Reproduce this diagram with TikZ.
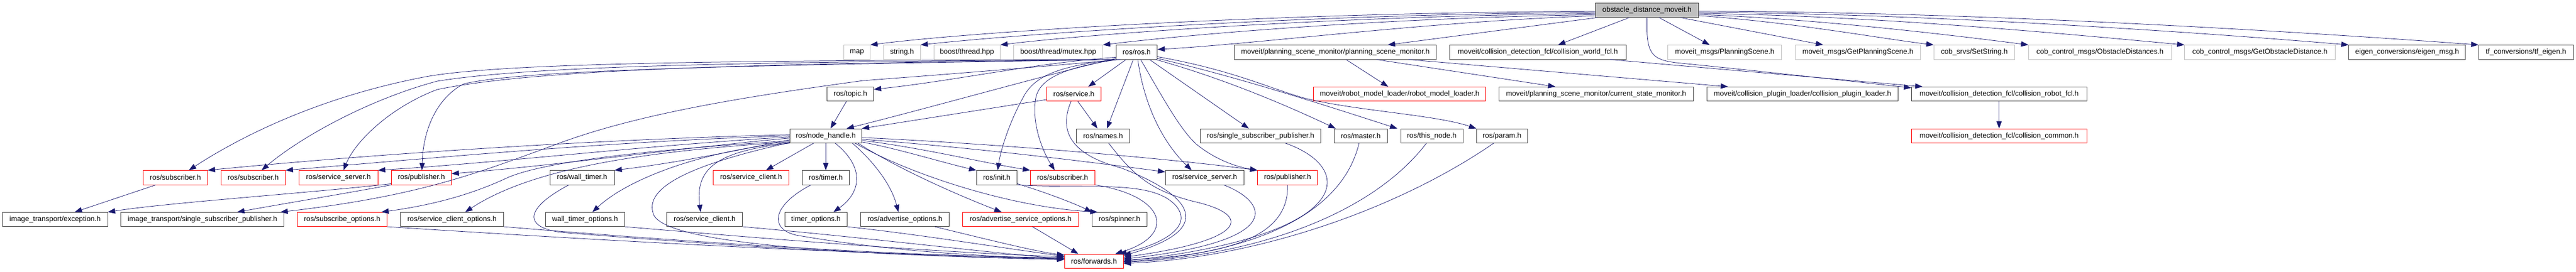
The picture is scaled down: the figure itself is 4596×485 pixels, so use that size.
\documentclass[tikz,border=0pt]{standalone}
\usepackage{fontspec}
\setmainfont{Liberation Sans}
\usetikzlibrary{arrows.meta}
\definecolor{edgec}{HTML}{191970}
\definecolor{lgray}{HTML}{BFBFBF}
\definecolor{dgray}{HTML}{404040}
\begin{document}
\begin{tikzpicture}[x=1pt,y=1pt,
 box/.style={draw, line width=0.9pt, minimum height=25.3pt, inner sep=0pt, font=\fontsize{12.9}{15}\selectfont, anchor=center},
 nb/.style={box, draw=dgray},
 nr/.style={box, draw=red},
 ng/.style={box, draw=lgray},
 ntop/.style={box, draw=dgray, fill=lgray},
 e/.style={draw=edgec, line width=0.75pt, -{Triangle[length=13pt,width=9.5pt]}}]
\useasboundingbox (0,0) rectangle (4596,-485);
\fill[white] (0,0) rectangle (4596,-485);
% row 0
\node[ntop,minimum width=184.4pt] (top) at (2938.5,-18.3) {obstacle\_distance\_moveit.h};
% row 1
\node[ng,minimum width=46.6pt] (map) at (1529,-93.3) {map};
\node[ng,minimum width=65.3pt] (string) at (1609.3,-93.3) {string.h};
\node[ng,minimum width=118.3pt] (boost) at (1725.2,-93.3) {boost/thread.hpp};
\node[ng,minimum width=158.6pt] (mutex) at (1888,-93.3) {boost/thread/mutex.hpp};
\node[nb,minimum width=73.4pt] (rosh) at (2028,-93.3) {ros/ros.h};
\node[nb,minimum width=360.4pt] (psm) at (2382.5,-93.3) {moveit/planning\_scene\_monitor/planning\_scene\_monitor.h};
\node[nb,minimum width=315pt] (cwf) at (2743.8,-93.3) {moveit/collision\_detection\_fcl/collision\_world\_fcl.h};
\node[ng,minimum width=203pt] (ps) at (3077.2,-93.3) {moveit\_msgs/PlanningScene.h};
\node[ng,minimum width=223.3pt] (gps) at (3314.7,-93.3) {moveit\_msgs/GetPlanningScene.h};
\node[ng,minimum width=144.4pt] (setstr) at (3522.5,-93.3) {cob\_srvs/SetString.h};
\node[ng,minimum width=254.7pt] (obsd) at (3746.7,-93.3) {cob\_control\_msgs/ObstacleDistances.h};
\node[ng,minimum width=268.6pt] (gobsd) at (4032,-93.3) {cob\_control\_msgs/GetObstacleDistance.h};
\node[nb,minimum width=208pt] (eigen) at (4294.7,-93.3) {eigen\_conversions/eigen\_msg.h};
\node[nb,minimum width=168.7pt] (tfe) at (4506.7,-93.3) {tf\_conversions/tf\_eigen.h};
% row 2
\node[nb,minimum width=83pt] (topic) at (1517.2,-168) {ros/topic.h};
\node[nr,minimum width=97.4pt] (service) at (1916,-168) {ros/service.h};
\node[nr,minimum width=307pt] (rml) at (2497.2,-168) {moveit/robot\_model\_loader/robot\_model\_loader.h};
\node[nb,minimum width=347pt] (csm) at (2847.8,-168) {moveit/planning\_scene\_monitor/current\_state\_monitor.h};
\node[nb,minimum width=340.6pt] (cpl) at (3216,-168) {moveit/collision\_plugin\_loader/collision\_plugin\_loader.h};
\node[nb,minimum width=312.7pt] (crf) at (3566.7,-168) {moveit/collision\_detection\_fcl/collision\_robot\_fcl.h};
% row 3
\node[nb,minimum width=128pt] (nh) at (1473.3,-242.7) {ros/node\_handle.h};
\node[nb,minimum width=94.6pt] (names) at (1968,-242.7) {ros/names.h};
\node[nb,minimum width=215pt] (ssp) at (2249.2,-242.7) {ros/single\_subscriber\_publisher.h};
\node[nb,minimum width=95pt] (master) at (2427.8,-242.7) {ros/master.h};
\node[nb,minimum width=111pt] (thisnode) at (2554.5,-242.7) {ros/this\_node.h};
\node[nb,minimum width=91pt] (param) at (2679.8,-242.7) {ros/param.h};
\node[nr,minimum width=312.7pt] (ccommon) at (3566.7,-242.7) {moveit/collision\_detection\_fcl/collision\_common.h};
% row 4
\node[nr,minimum width=114.6pt] (sub1) at (313,-317.3) {ros/subscriber.h};
\node[nr,minimum width=115pt] (sub2) at (451.8,-317.3) {ros/subscriber.h};
\node[nr,minimum width=140.3pt] (ssr) at (603.8,-317.3) {ros/service\_server.h};
\node[nr,minimum width=107pt] (pubr) at (751.8,-317.3) {ros/publisher.h};
\node[nb,minimum width=115pt] (wt) at (1038.5,-317.3) {ros/wall\_timer.h};
\node[nr,minimum width=135.4pt] (scr) at (1340,-317.3) {ros/service\_client.h};
\node[nb,minimum width=84pt] (timer) at (1473.3,-317.3) {ros/timer.h};
\node[nb,minimum width=72.4pt] (init) at (1778.5,-317.3) {ros/init.h};
\node[nr,minimum width=115pt] (sub3) at (1895.8,-317.3) {ros/subscriber.h};
\node[nb,minimum width=140pt] (ssb) at (2149.3,-317.3) {ros/service\_server.h};
\node[nr,minimum width=107pt] (pub2) at (2297.2,-317.3) {ros/publisher.h};
% row 5
\node[nb,minimum width=187.3pt] (exc) at (98.3,-392) {image\_transport/exception.h};
\node[nb,minimum width=291pt] (itssp) at (361.2,-392) {image\_transport/single\_subscriber\_publisher.h};
\node[nr,minimum width=160.4pt] (subopt) at (610.5,-392) {ros/subscribe\_options.h};
\node[nb,minimum width=184.4pt] (sco) at (806.5,-392) {ros/service\_client\_options.h};
\node[nb,minimum width=141.7pt] (wto) at (1043.8,-392) {wall\_timer\_options.h};
\node[nb,minimum width=135pt] (scb) at (1257.2,-392) {ros/service\_client.h};
\node[nb,minimum width=111pt] (to) at (1455.8,-392) {timer\_options.h};
\node[nb,minimum width=157.6pt] (ao) at (1614.5,-392) {ros/advertise\_options.h};
\node[nr,minimum width=206.6pt] (aso) at (1821,-392) {ros/advertise\_service\_options.h};
\node[nb,minimum width=97.3pt] (spinner) at (1997.3,-392) {ros/spinner.h};
% row 6
\node[nr,minimum width=105pt] (fwd) at (1951.8,-466.7) {ros/forwards.h};

% edges from top
\draw[e] ([yshift=-2pt]top.west) .. controls (2300,-22) and (1750,-55) .. (map.north east);
\draw[e] ([yshift=-4pt]top.west) .. controls (2350,-25) and (1850,-58) .. (string.north east);
\draw[e] ([yshift=-6pt]top.west) .. controls (2400,-28) and (1950,-60) .. (boost.north east);
\draw[e] ([yshift=-8pt]top.west) .. controls (2450,-32) and (2100,-64) .. (mutex.north east);
\draw[e] ([yshift=-10pt]top.west) .. controls (2550,-38) and (2250,-78) .. ([yshift=5pt]rosh.east);
\draw[e] ([xshift=4pt]top.south west) -- ([xshift=93.5pt]psm.north);
\draw[e] ([xshift=-31.5pt]top.south) -- ([xshift=36pt]cwf.north);
\draw[e] ([xshift=21.5pt]top.south) -- ([xshift=-27pt]ps.north);
\draw[e] ([xshift=59.5pt]top.south) -- ([xshift=-62pt]gps.north);
\draw[e] ([yshift=-9.7pt]top.east) .. controls (3200,-40) and (3350,-68) .. (setstr.north west);
\draw[e] ([yshift=-7.7pt]top.east) .. controls (3250,-34) and (3500,-65) .. (obsd.north west);
\draw[e] ([yshift=-5.7pt]top.east) .. controls (3350,-28) and (3700,-62) .. (gobsd.north west);
\draw[e] ([yshift=-3.7pt]top.east) .. controls (3450,-24) and (3950,-60) .. (eigen.north west);
\draw[e] ([yshift=-1.7pt]top.east) .. controls (3550,-21) and (4150,-60) .. (tfe.north west);
\draw[e] (top.south) .. controls (2937,-95) and (2945,-106) .. (2990,-112) .. controls (3150,-128) and (3300,-145) .. ([yshift=-2pt]crf.north west);
\draw[e] ([xshift=129pt]cwf.south) -- ([xshift=-136.7pt]crf.north);
\draw[e] ([xshift=19pt]psm.south) -- ([xshift=-20.5pt]rml.north);
\draw[e] ([xshift=73.5pt]psm.south) -- ([xshift=-72.8pt]csm.north);
\draw[e] ([xshift=130.5pt]psm.south) -- ([xshift=-133pt]cpl.north);
\draw[e] (crf.south) -- (ccommon.north);

% edges from ros/ros.h
\draw[e] ([xshift=-19pt]rosh.south) -- ([xshift=25.7pt]service.north);
\draw[e] ([xshift=-6pt]rosh.south) -- ([xshift=7pt]names.north);
\draw[e] ([xshift=2pt]rosh.south) .. controls (2040,-180) and (2070,-250) .. ([xshift=-23.3pt]ssb.north);
\draw[e] ([xshift=7pt]rosh.south) .. controls (2075,-175) and (2110,-240) .. (2140,-262) .. controls (2170,-285) and (2205,-298) .. (pub2.north west);
\draw[e] ([xshift=23pt]rosh.south) -- ([xshift=-21.2pt]ssp.north);
\draw[e] ([xshift=-3pt]rosh.south east) .. controls (2200,-145) and (2320,-200) .. ([xshift=-44.8pt]master.north);
\draw[e] ([yshift=2pt]rosh.south east) .. controls (2220,-140) and (2400,-200) .. ([xshift=-61.5pt]thisnode.north);
\draw[e] ([yshift=5pt]rosh.south east) .. controls (2200,-125) and (2270,-160) .. (2330,-176) .. controls (2420,-198) and (2560,-205) .. (param.north west);
\draw[e] ([yshift=2pt]rosh.south west) .. controls (1880,-130) and (1650,-195) .. ([xshift=-27.3pt]nh.north east);
\draw[e] ([yshift=4pt]rosh.south west) .. controls (1850,-112) and (1700,-145) .. ([yshift=-4.7pt]topic.north east);
\draw[e] (rosh.south west) .. controls (1890,-118) and (1845,-135) .. (1825,-175) .. controls (1800,-220) and (1785,-270) .. ([xshift=1.5pt]init.north);
\draw[e] ([xshift=3pt]rosh.south west) .. controls (1900,-120) and (1855,-140) .. (1848,-175) .. controls (1840,-220) and (1860,-270) .. ([xshift=-14pt]sub3.north);
\draw[e] ([xshift=4pt]rosh.south west) .. controls (1300,-108) and (900,-112) .. (760,-137) .. controls (560,-175) and (420,-250) .. ([xshift=24pt]sub1.north);
\draw[e] ([xshift=5pt]rosh.south west) .. controls (1300,-111) and (950,-118) .. (780,-145) .. controls (650,-180) and (530,-250) .. ([xshift=15pt]sub2.north);
\draw[e] ([xshift=6pt]rosh.south west) .. controls (1300,-114) and (950,-125) .. (780,-160) .. controls (700,-190) and (635,-250) .. ([xshift=9pt]ssr.north);
\draw[e] ([xshift=7pt]rosh.south west) .. controls (1300,-117) and (930,-125) .. (827,-150) .. controls (780,-175) and (755,-230) .. ([xshift=1pt]pubr.north);
\draw[e] ([xshift=8pt]rosh.south west) .. controls (1850,-120) and (1700,-132) .. (1540,-144) .. controls (1350,-170) and (1150,-200) .. (1000,-255) .. controls (850,-310) and (750,-350) .. ([xshift=-6.7pt]itssp.north east);
\draw[e] ([yshift=-10pt]service.west) -- (nh.north east);
\draw[e] ([xshift=7pt]service.south) -- ([xshift=-10pt]names.north);
\draw[e] ([xshift=-7pt]topic.south) -- ([xshift=8.5pt]nh.north);

% edges from ros/node_handle.h
\draw[e] ([yshift=2pt]nh.west) .. controls (1100,-248) and (700,-272) .. (sub1.north east);
\draw[e] (nh.west) .. controls (1100,-252) and (800,-280) .. (sub2.north east);
\draw[e] ([yshift=-2pt]nh.west) .. controls (1150,-260) and (900,-290) .. (ssr.north east);
\draw[e] ([yshift=-4pt]nh.west) .. controls (1200,-266) and (1000,-295) .. ([yshift=7pt]pubr.east);
\draw[e] ([yshift=-7pt]nh.west) .. controls (1300,-272) and (1200,-292) .. (wt.north east);
\draw[e] ([yshift=-9pt]nh.west) .. controls (1150,-268) and (960,-290) .. (900,-320) .. controls (830,-352) and (760,-368) .. ([xshift=-10.7pt]subopt.north east);
\draw[e] ([yshift=-11pt]nh.west) .. controls (1150,-270) and (950,-300) .. ([xshift=23.5pt]sco.north);
\draw[e] ([yshift=-12pt]nh.west) .. controls (1250,-270) and (1120,-320) .. ([xshift=13.2pt]wto.north);
\draw[e] ([xshift=-21.6pt]nh.south) -- ([xshift=26.7pt]scr.north);
\draw[e] (nh.south) -- (timer.north);
\draw[e] ([xshift=16.7pt]nh.south) .. controls (1545,-300) and (1535,-345) .. ([xshift=31.2pt]to.north);
\draw[e] (nh.south west) .. controls (1280,-270) and (1240,-300) .. ([xshift=-7.2pt]scb.north);
\draw[e] ([yshift=1pt]nh.south west) .. controls (1250,-290) and (1150,-330) .. (1165,-380) .. controls (1175,-435) and (1500,-455) .. ([yshift=3.7pt]fwd.west);
\draw[e] ([xshift=-17pt]nh.south east) .. controls (1560,-290) and (1590,-330) .. ([xshift=-11.5pt]ao.north);
\draw[e] ([xshift=-7pt]nh.south east) .. controls (1600,-300) and (1700,-345) .. ([xshift=-34pt]aso.north);
\draw[e] ([yshift=2pt]nh.south east) .. controls (1600,-265) and (1680,-290) .. (init.north west);
\draw[e] ([yshift=5pt]nh.south east) .. controls (1650,-265) and (1750,-290) .. (sub3.north west);
\draw[e] ([yshift=7pt]nh.south east) .. controls (1750,-265) and (1950,-290) .. ([yshift=-3pt]ssb.north west);
\draw[e] ([yshift=10pt]nh.south east) .. controls (1800,-258) and (2100,-285) .. (pub2.north west);
\draw[e] ([xshift=-12pt]nh.south east) .. controls (1620,-310) and (1800,-370) .. ([xshift=10pt]spinner.north west);
\draw[e] ([yshift=2pt]init.south east) .. controls (1870,-345) and (1920,-365) .. (spinner.north west);

% edges into ros/forwards.h
\draw[e] (subopt.south east) .. controls (1000,-425) and (1500,-455) .. ([yshift=6pt]fwd.west);
\draw[e] (sco.south east) .. controls (1200,-430) and (1550,-455) .. ([yshift=5pt]fwd.west);
\draw[e] (wto.south east) .. controls (1350,-425) and (1650,-450) .. ([yshift=8pt]fwd.west);
\draw[e] ([xshift=-23.5pt]wt.south) .. controls (940,-370) and (930,-405) .. (1000,-415) .. controls (1400,-448) and (1700,-460) .. ([yshift=3pt]fwd.west);
\draw[e] (scb.south east) .. controls (1550,-425) and (1750,-450) .. ([yshift=4pt]fwd.west);
\draw[e] (to.south east) .. controls (1650,-420) and (1800,-445) .. ([yshift=9pt]fwd.west);
\draw[e] ([xshift=-26.3pt]timer.south) .. controls (1380,-365) and (1370,-408) .. (1420,-420) .. controls (1600,-452) and (1800,-460) .. ([yshift=4.5pt]fwd.west);
\draw[e] ([xshift=53.5pt]ao.south) .. controls (1750,-425) and (1850,-450) .. ([yshift=11pt]fwd.west);
\draw[e] ([xshift=21pt]aso.south) -- ([xshift=25pt]fwd.north west);
\draw[e] (sub3.south east) .. controls (2080,-350) and (2100,-420) .. ([xshift=-15pt]fwd.north east);
\draw[e] (init.south east) .. controls (1950,-338) and (2060,-320) .. (2100,-370) .. controls (2130,-410) and (2060,-440) .. ([xshift=-8pt]fwd.north east);
\draw[e] ([xshift=-5pt]service.south) .. controls (1890,-230) and (1905,-275) .. (2000,-300) .. controls (2130,-350) and (2170,-410) .. ([yshift=-3pt]fwd.north east);
\draw[e] ([xshift=10pt]names.south) .. controls (2020,-310) and (2050,-340) .. (2130,-360) .. controls (2240,-385) and (2220,-430) .. ([yshift=-6pt]fwd.north east);
\draw[e] ([xshift=34pt]ssb.south) .. controls (2260,-360) and (2300,-430) .. ([yshift=4pt]fwd.east);
\draw[e] (pub2.south) .. controls (2300,-420) and (2200,-455) .. ([yshift=2pt]fwd.east);
\draw[e] ([xshift=44pt]ssp.south) .. controls (2420,-300) and (2420,-420) .. (fwd.east);
\draw[e] ([xshift=-3pt]master.south) .. controls (2390,-400) and (2200,-455) .. ([yshift=-1pt]fwd.east);
\draw[e] ([xshift=-9.5pt]thisnode.south) .. controls (2450,-380) and (2250,-455) .. ([yshift=-2pt]fwd.east);
\draw[e] ([xshift=-14.8pt]param.south) .. controls (2500,-370) and (2250,-460) .. ([yshift=-4pt]fwd.east);

% image_transport
\draw[e] ([xshift=-35pt]sub1.south) -- ([xshift=35pt]exc.north);
\draw[e] ([yshift=2pt]pubr.south west) .. controls (550,-345) and (300,-362) .. (exc.north east);
\draw[e] (pubr.south west) .. controls (620,-345) and (500,-365) .. ([xshift=62pt]itssp.north);
\end{tikzpicture}
\end{document}
